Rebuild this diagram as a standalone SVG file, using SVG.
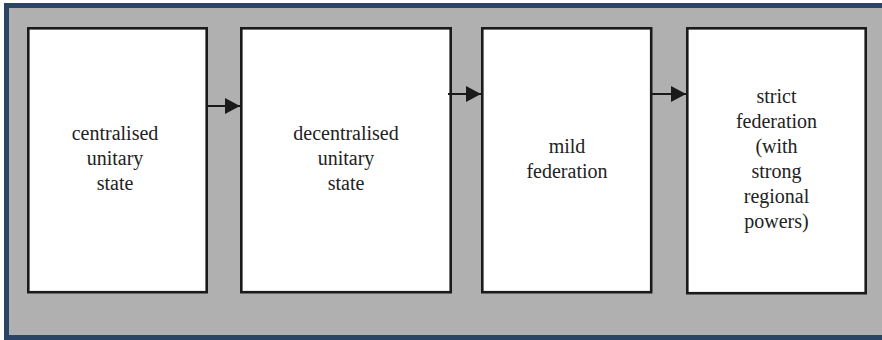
<svg xmlns="http://www.w3.org/2000/svg" width="882" height="340" viewBox="0 0 882 340">
  <style>
    .frame { fill: #b0b0b0; stroke: #2a4466; stroke-width: 5; }
    .box { fill: #ffffff; stroke: #1a1a1a; stroke-width: 2.6; }
    .lbl { font-family: "Liberation Serif", "Times New Roman", serif; font-size: 20px; fill: #222222; text-anchor: middle; }
    .conn { stroke: #1a1a1a; stroke-width: 2.2; fill: none; marker-end: url(#head); }
  </style>
  <defs>
    <marker id="head" viewBox="0 0 15 16" refX="15" refY="8" markerWidth="15" markerHeight="16" markerUnits="userSpaceOnUse" orient="auto">
      <path d="M0,0 L15,8 L0,16 Z" fill="#1a1a1a"/>
    </marker>
  </defs>

  <!-- background panel -->
  <rect class="frame" x="6.5" y="5.5" width="884" height="332"/>

  <g id="centralised-unitary-state">
    <rect class="box" x="28.3" y="28.3" width="178.4" height="263.9"/>
    <text class="lbl" x="115" y="140">centralised</text>
    <text class="lbl" x="115" y="165">unitary</text>
    <text class="lbl" x="115" y="190">state</text>
  </g>

  <g id="decentralised-unitary-state">
    <rect class="box" x="241.3" y="28.3" width="209.4" height="263.9"/>
    <text class="lbl" x="346" y="140">decentralised</text>
    <text class="lbl" x="346" y="165">unitary</text>
    <text class="lbl" x="346" y="190">state</text>
  </g>

  <g id="mild-federation">
    <rect class="box" x="482.3" y="28.3" width="168.9" height="263.9"/>
    <text class="lbl" x="567" y="153">mild</text>
    <text class="lbl" x="567" y="178">federation</text>
  </g>

  <g id="strict-federation">
    <rect class="box" x="687.3" y="28.3" width="178.4" height="264.9"/>
    <text class="lbl" x="776.5" y="103">strict</text>
    <text class="lbl" x="776.5" y="128">federation</text>
    <text class="lbl" x="776.5" y="153">(with</text>
    <text class="lbl" x="776.5" y="178">strong</text>
    <text class="lbl" x="776.5" y="203">regional</text>
    <text class="lbl" x="776.5" y="228">powers)</text>
  </g>

  <g id="connectors">
    <line class="conn" x1="207" y1="106" x2="240" y2="106"/>
    <line class="conn" x1="448" y1="94" x2="481" y2="94"/>
    <line class="conn" x1="652" y1="94" x2="686" y2="94"/>
  </g>
</svg>
